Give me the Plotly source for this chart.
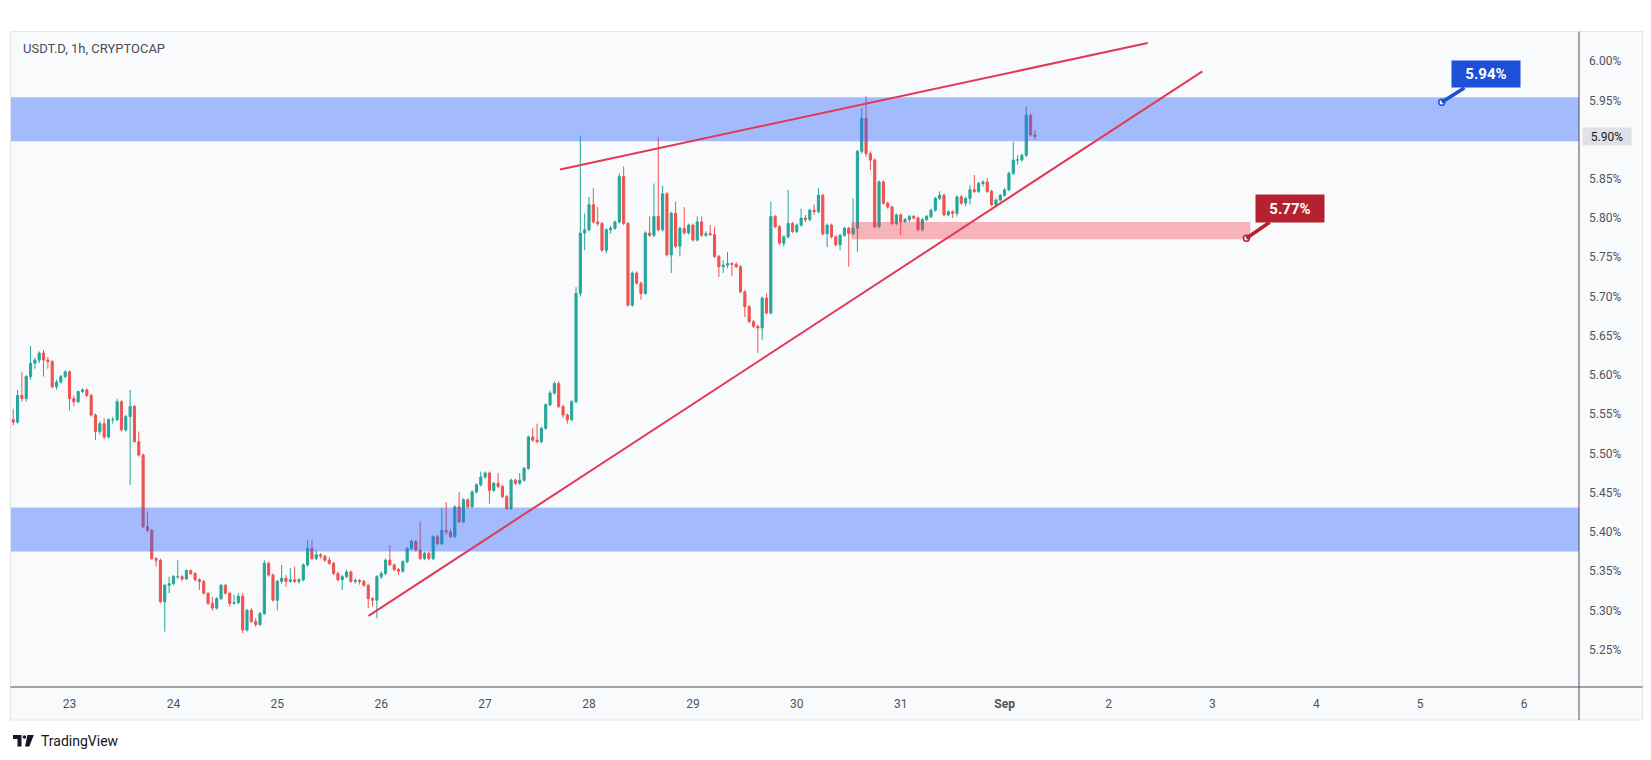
import plotly.graph_objects as go
import pandas as pd

# ---------------- data ----------------
start_time = "2023-08-22 11:00"   # first hourly candle
open_first = 5.543

close = [
    5.540, 5.574, 5.570, 5.598, 5.615, 5.619, 5.628, 5.619, 5.617, 5.585, 5.591, 5.598,
    5.604, 5.570, 5.566, 5.579, 5.581, 5.574, 5.549, 5.528, 5.538, 5.521, 5.543, 5.543,
    5.566, 5.530, 5.547, 5.560, 5.515, 5.498, 5.407, 5.402, 5.366, 5.364, 5.311, 5.332,
    5.334, 5.343, 5.343, 5.340, 5.351, 5.347, 5.339, 5.337, 5.322, 5.309, 5.303, 5.315,
    5.332, 5.322, 5.309, 5.310, 5.318, 5.275, 5.300, 5.286, 5.282, 5.296, 5.360, 5.345,
    5.313, 5.337, 5.341, 5.337, 5.339, 5.337, 5.339, 5.358, 5.379, 5.366, 5.371, 5.369,
    5.364, 5.360, 5.347, 5.339, 5.343, 5.349, 5.337, 5.338, 5.337, 5.332, 5.315, 5.313,
    5.343, 5.347, 5.364, 5.358, 5.352, 5.350, 5.362, 5.379, 5.388, 5.377, 5.366, 5.373,
    5.366, 5.394, 5.385, 5.402, 5.400, 5.394, 5.432, 5.413, 5.441, 5.432, 5.451, 5.460,
    5.470, 5.475, 5.453, 5.462, 5.458, 5.445, 5.430, 5.466, 5.462, 5.466, 5.481, 5.521,
    5.517, 5.515, 5.532, 5.562, 5.577, 5.589, 5.560, 5.549, 5.543, 5.566, 5.704, 5.781,
    5.785, 5.817, 5.795, 5.793, 5.759, 5.785, 5.787, 5.795, 5.853, 5.793, 5.689, 5.730,
    5.717, 5.704, 5.781, 5.778, 5.802, 5.785, 5.831, 5.753, 5.806, 5.764, 5.787, 5.781,
    5.791, 5.772, 5.795, 5.778, 5.780, 5.779, 5.751, 5.738, 5.740, 5.742, 5.741, 5.738,
    5.706, 5.687, 5.668, 5.662, 5.660, 5.698, 5.679, 5.802, 5.789, 5.768, 5.776, 5.793,
    5.783, 5.791, 5.800, 5.798, 5.810, 5.808, 5.829, 5.780, 5.791, 5.776, 5.766, 5.778,
    5.787, 5.780, 5.787, 5.885, 5.927, 5.882, 5.874, 5.789, 5.846, 5.819, 5.814, 5.793,
    5.804, 5.795, 5.798, 5.802, 5.800, 5.785, 5.798, 5.802, 5.810, 5.825, 5.829, 5.804,
    5.808, 5.806, 5.827, 5.819, 5.825, 5.836, 5.834, 5.844, 5.846, 5.834, 5.817, 5.823,
    5.829, 5.836, 5.857, 5.874, 5.874, 5.880, 5.931, 5.906, 5.904,
]

high = [
    5.557, 5.581, 5.604, 5.600, 5.637, 5.622, 5.630, 5.632, 5.623, 5.619, 5.594, 5.600,
    5.606, 5.606, 5.574, 5.580, 5.583, 5.583, 5.576, 5.551, 5.541, 5.545, 5.545, 5.547,
    5.570, 5.568, 5.549, 5.581, 5.562, 5.528, 5.500, 5.426, 5.404, 5.368, 5.366, 5.334,
    5.343, 5.345, 5.364, 5.345, 5.352, 5.352, 5.349, 5.341, 5.339, 5.323, 5.317, 5.317,
    5.334, 5.334, 5.323, 5.320, 5.322, 5.322, 5.302, 5.303, 5.290, 5.298, 5.364, 5.362,
    5.347, 5.339, 5.358, 5.345, 5.354, 5.356, 5.341, 5.360, 5.390, 5.390, 5.377, 5.373,
    5.371, 5.368, 5.362, 5.349, 5.345, 5.352, 5.351, 5.341, 5.340, 5.339, 5.334, 5.317,
    5.345, 5.350, 5.366, 5.383, 5.360, 5.354, 5.364, 5.381, 5.390, 5.390, 5.413, 5.375,
    5.375, 5.396, 5.396, 5.430, 5.438, 5.404, 5.434, 5.451, 5.443, 5.443, 5.453, 5.462,
    5.477, 5.477, 5.477, 5.464, 5.475, 5.460, 5.447, 5.468, 5.468, 5.475, 5.483, 5.523,
    5.532, 5.538, 5.534, 5.564, 5.580, 5.592, 5.592, 5.562, 5.551, 5.568, 5.712, 5.905,
    5.806, 5.827, 5.838, 5.814, 5.795, 5.787, 5.790, 5.797, 5.857, 5.866, 5.795, 5.732,
    5.732, 5.719, 5.783, 5.802, 5.844, 5.903, 5.841, 5.833, 5.808, 5.821, 5.789, 5.814,
    5.793, 5.793, 5.802, 5.802, 5.783, 5.791, 5.789, 5.753, 5.746, 5.757, 5.744, 5.744,
    5.740, 5.708, 5.689, 5.670, 5.664, 5.700, 5.704, 5.821, 5.804, 5.791, 5.778, 5.836,
    5.795, 5.793, 5.812, 5.804, 5.812, 5.817, 5.838, 5.831, 5.793, 5.793, 5.778, 5.780,
    5.789, 5.789, 5.825, 5.887, 5.940, 5.955, 5.885, 5.876, 5.848, 5.848, 5.821, 5.816,
    5.806, 5.806, 5.800, 5.804, 5.804, 5.802, 5.800, 5.804, 5.812, 5.827, 5.834, 5.831,
    5.810, 5.810, 5.829, 5.829, 5.827, 5.842, 5.855, 5.846, 5.848, 5.851, 5.836, 5.825,
    5.831, 5.838, 5.859, 5.897, 5.880, 5.882, 5.942, 5.933, 5.912,
]

low = [
    5.536, 5.538, 5.566, 5.566, 5.594, 5.608, 5.615, 5.598, 5.608, 5.583, 5.581, 5.589,
    5.596, 5.555, 5.560, 5.564, 5.577, 5.572, 5.547, 5.517, 5.524, 5.518, 5.519, 5.538,
    5.541, 5.528, 5.528, 5.460, 5.514, 5.496, 5.405, 5.400, 5.364, 5.356, 5.309, 5.273,
    5.322, 5.332, 5.340, 5.337, 5.339, 5.345, 5.337, 5.326, 5.320, 5.307, 5.300, 5.301,
    5.313, 5.320, 5.305, 5.307, 5.308, 5.271, 5.273, 5.284, 5.279, 5.280, 5.294, 5.343,
    5.311, 5.300, 5.334, 5.330, 5.335, 5.335, 5.334, 5.337, 5.356, 5.364, 5.364, 5.366,
    5.362, 5.358, 5.345, 5.337, 5.326, 5.341, 5.335, 5.334, 5.333, 5.330, 5.303, 5.305,
    5.290, 5.340, 5.345, 5.356, 5.350, 5.345, 5.348, 5.360, 5.377, 5.375, 5.364, 5.364,
    5.364, 5.364, 5.383, 5.383, 5.396, 5.392, 5.392, 5.411, 5.411, 5.430, 5.430, 5.449,
    5.458, 5.468, 5.436, 5.451, 5.456, 5.443, 5.428, 5.428, 5.460, 5.460, 5.464, 5.479,
    5.515, 5.513, 5.513, 5.530, 5.560, 5.575, 5.558, 5.545, 5.538, 5.541, 5.564, 5.700,
    5.759, 5.783, 5.793, 5.790, 5.757, 5.755, 5.780, 5.785, 5.793, 5.791, 5.687, 5.687,
    5.715, 5.696, 5.702, 5.776, 5.776, 5.783, 5.783, 5.751, 5.730, 5.762, 5.751, 5.779,
    5.779, 5.770, 5.770, 5.776, 5.776, 5.777, 5.749, 5.725, 5.730, 5.736, 5.726, 5.736,
    5.704, 5.674, 5.666, 5.660, 5.628, 5.645, 5.677, 5.677, 5.787, 5.766, 5.764, 5.774,
    5.781, 5.781, 5.789, 5.795, 5.796, 5.804, 5.806, 5.778, 5.763, 5.774, 5.764, 5.759,
    5.776, 5.738, 5.778, 5.757, 5.882, 5.878, 5.861, 5.787, 5.787, 5.817, 5.812, 5.791,
    5.791, 5.778, 5.795, 5.795, 5.798, 5.783, 5.783, 5.796, 5.800, 5.808, 5.823, 5.802,
    5.802, 5.800, 5.802, 5.817, 5.815, 5.817, 5.832, 5.832, 5.840, 5.832, 5.815, 5.815,
    5.821, 5.827, 5.834, 5.855, 5.868, 5.872, 5.878, 5.904, 5.900,
]

date_tick_vals = ["2023-08-23", "2023-08-24", "2023-08-25", "2023-08-26", "2023-08-27",
                  "2023-08-28", "2023-08-29", "2023-08-30", "2023-08-31", "2023-09-01",
                  "2023-09-02", "2023-09-03", "2023-09-04", "2023-09-05", "2023-09-06"]
date_tick_labels = ["23", "24", "25", "26", "27", "28", "29", "30", "31", "<b>Sep</b>",
                    "2", "3", "4", "5", "6"]

price_ticks = [5.25, 5.30, 5.35, 5.40, 5.45, 5.50, 5.55, 5.60, 5.65, 5.70, 5.75,
               5.80, 5.85, 5.95, 6.00]
price_tick_labels = ["5.25%", "5.30%", "5.35%", "5.40%", "5.45%", "5.50%", "5.55%",
                     "5.60%", "5.65%", "5.70%", "5.75%", "5.80%", "5.85%", "5.95%", "6.00%"]

upper_zone = [5.898, 5.954]
lower_zone = [5.375, 5.431]
red_zone_price = [5.773, 5.795]
red_zone_time = ["2023-08-30 12:33", "2023-09-03 08:45"]

upper_line_time = ["2023-08-27 17:19", "2023-09-02 09:03"]
upper_line_price = [5.862, 6.023]
lower_line_time = ["2023-08-25 21:04", "2023-09-02 21:41"]
lower_line_price = [5.293, 5.987]

callout_blue_time, callout_blue_price, callout_blue_text = "2023-09-05 04:59", 5.9475, "5.94%"
callout_red_time, callout_red_price, callout_red_text = "2023-09-03 07:52", 5.7743, "5.77%"

x_range = ["2023-08-22 10:29", "2023-09-06 12:41"]
y_range = [5.2024, 6.0371]

# ---------------- styling / layout ----------------
W, H = 1651, 760
ML, MR, MT, MB = 11, 72, 32, 73
PL, PR, PT, PB = ML, W - MR, MT, H - MB

def px(x):
    return (x - PL) / (PR - PL)

def py(y):
    return (PB - y) / (PB - PT)

GREEN = "#26a69a"
RED = "#ef5350"
BAND = "rgba(41,98,255,0.41)"
RED_ZONE = "rgba(242,54,69,0.36)"
LINE_RED = "#e03a55"
AXIS_TXT = "#50535e"
FONT = "Roboto"

times = pd.date_range(start_time, periods=len(close), freq="h")
opens = [open_first] + close[:-1]

fig = go.Figure()
fig.add_trace(go.Candlestick(
    x=times, open=opens, high=high, low=low, close=close,
    increasing=dict(line=dict(color=GREEN, width=1), fillcolor=GREEN),
    decreasing=dict(line=dict(color=RED, width=1), fillcolor=RED),
    whiskerwidth=0, showlegend=False, hoverinfo="skip",
))

shapes = []
# chart frame background
shapes.append(dict(type="rect", xref="paper", yref="paper", layer="below",
                   x0=px(10.5), x1=px(1642.5), y0=py(720), y1=py(31.6),
                   fillcolor="#f9fafc", line=dict(color="#e3e5ea", width=1)))
# zones (drawn over candles, semi-transparent)
for z in (upper_zone, lower_zone):
    shapes.append(dict(type="rect", xref="paper", yref="y", layer="above",
                       x0=0, x1=1, y0=z[0], y1=z[1], fillcolor=BAND, line=dict(width=0)))
shapes.append(dict(type="rect", xref="x", yref="y", layer="above",
                   x0=red_zone_time[0], x1=red_zone_time[1],
                   y0=red_zone_price[0], y1=red_zone_price[1],
                   fillcolor=RED_ZONE, line=dict(width=0)))
# trend lines
shapes.append(dict(type="line", xref="x", yref="y", layer="above",
                   x0=upper_line_time[0], x1=upper_line_time[1],
                   y0=upper_line_price[0], y1=upper_line_price[1],
                   line=dict(color=LINE_RED, width=2)))
shapes.append(dict(type="line", xref="x", yref="y", layer="above",
                   x0=lower_line_time[0], x1=lower_line_time[1],
                   y0=lower_line_price[0], y1=lower_line_price[1],
                   line=dict(color=LINE_RED, width=2)))
# axis lines
shapes.append(dict(type="line", xref="paper", yref="paper", layer="above",
                   x0=1, x1=1, y0=py(720), y1=py(31.6), line=dict(color="#4a4e59", width=1)))
shapes.append(dict(type="line", xref="paper", yref="paper", layer="above",
                   x0=px(10.5), x1=px(1642.5), y0=0, y1=0, line=dict(color="#4a4e59", width=1)))
# callout tip circles
for t, p, c in ((callout_blue_time, callout_blue_price, "#1d4fd8"),
                (callout_red_time, callout_red_price, "#b5212f")):
    shapes.append(dict(type="circle", xref="x", yref="y", layer="above",
                       xsizemode="pixel", ysizemode="pixel", xanchor=t, yanchor=p,
                       x0=-3, x1=3, y0=-3, y1=3,
                       fillcolor="white", line=dict(color=c, width=1.5)))
# TradingView logo (approximate glyph shapes)
def path(points):
    s = "M " + " L ".join(f"{px(a):.5f},{py(b):.5f}" for a, b in points) + " Z"
    return s
shapes.append(dict(type="path", xref="paper", yref="paper",
                   path=path([(13, 735), (21.5, 735), (21.5, 746.5), (17.5, 746.5), (17.5, 739), (13, 739)]),
                   fillcolor="#131722", line=dict(width=0)))
shapes.append(dict(type="circle", xref="paper", yref="paper",
                   x0=px(22.6), x1=px(26.2), y0=py(738.8), y1=py(735.2),
                   fillcolor="#131722", line=dict(width=0)))
shapes.append(dict(type="path", xref="paper", yref="paper",
                   path=path([(27.5, 735), (33.8, 735), (29.3, 746.5), (25.0, 746.5)]),
                   fillcolor="#131722", line=dict(width=0)))

annotations = [
    dict(text="USDT.D, 1h, CRYPTOCAP", xref="paper", yref="paper", x=px(21), y=py(48.5),
         xanchor="left", yanchor="middle", showarrow=False,
         font=dict(family=FONT, size=13, color="#4a4d57")),
    dict(text="TradingView", xref="paper", yref="paper", x=px(39), y=py(740.5),
         xanchor="left", yanchor="middle", showarrow=False,
         font=dict(family=FONT, size=14, color="#131722")),
    # current price label on the price scale
    dict(text=f"{close[-1]:.2f}%", xref="paper", yref="y", x=px(1582), y=close[-1],
         xanchor="left", yanchor="middle", showarrow=False, width=46, height=15,
         bgcolor="#dfe1e6", font=dict(family=FONT, size=12, color="#131722")),
    dict(text=f"<b>{callout_blue_text}</b>", x=callout_blue_time, y=callout_blue_price,
         xref="x", yref="y", showarrow=True, arrowhead=0, arrowwidth=3.5,
         arrowcolor="#1d4fd8", ax=44, ay=-28, width=68, height=26, borderpad=0,
         bgcolor="#1d4fd8", font=dict(family=FONT, size=15, color="white")),
    dict(text=f"<b>{callout_red_text}</b>", x=callout_red_time, y=callout_red_price,
         xref="x", yref="y", showarrow=True, arrowhead=0, arrowwidth=3.5,
         arrowcolor="#b5212f", ax=43.5, ay=-30, width=68, height=27, borderpad=0,
         bgcolor="#b5212f", font=dict(family=FONT, size=15, color="white")),
]

fig.update_layout(
    width=W, height=H,
    margin=dict(l=ML, r=MR, t=MT, b=MB, pad=0),
    paper_bgcolor="white", plot_bgcolor="#f9fafc",
    shapes=shapes, annotations=annotations,
    showlegend=False,
    font=dict(family=FONT, size=12, color=AXIS_TXT),
    xaxis=dict(type="date", range=x_range, tickvals=date_tick_vals, ticktext=date_tick_labels,
               showgrid=False, zeroline=False, showline=False, ticks="",
               ticklabelstandoff=8, rangeslider=dict(visible=False),
               tickfont=dict(family=FONT, size=12, color=AXIS_TXT), fixedrange=True),
    yaxis=dict(side="right", range=y_range, tickvals=price_ticks, ticktext=price_tick_labels,
               showgrid=False, zeroline=False, showline=False, ticks="",
               ticklabelstandoff=9,
               tickfont=dict(family=FONT, size=12, color=AXIS_TXT), fixedrange=True),
)

fig.write_html("out.html")
